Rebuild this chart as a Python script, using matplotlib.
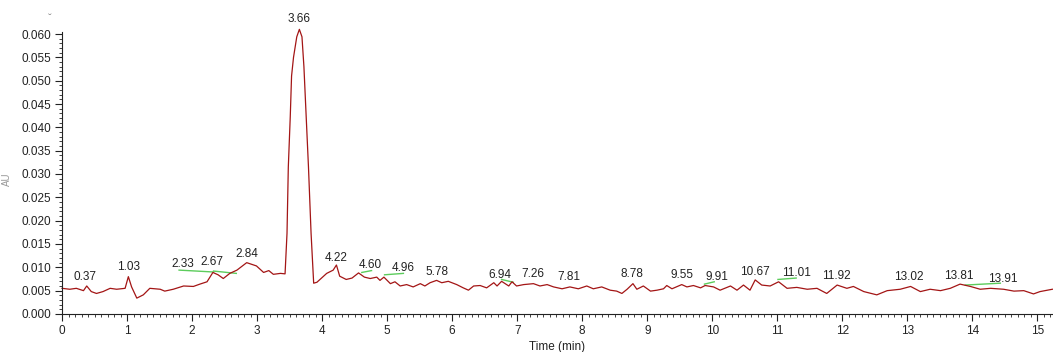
import numpy as np
import matplotlib.pyplot as plt
from matplotlib.ticker import MultipleLocator

plt.rcParams['font.family'] = ['Liberation Sans', 'DejaVu Sans']

# chromatogram trace (time in min, absorbance in AU)
time = [0.00, 0.12, 0.22, 0.33, 0.38, 0.45, 0.53, 0.63, 0.74, 0.84, 0.97,
        1.02, 1.07, 1.15, 1.25, 1.35, 1.51, 1.58, 1.71, 1.87, 2.02, 2.12,
        2.23, 2.32, 2.40, 2.48, 2.58, 2.69, 2.84, 2.99, 3.10, 3.18, 3.25,
        3.36, 3.43, 3.46, 3.48, 3.51, 3.53, 3.56, 3.61, 3.65, 3.69, 3.72,
        3.75, 3.79, 3.83, 3.87, 3.92,
        4.07, 4.17, 4.22, 4.27, 4.37, 4.46, 4.56, 4.65, 4.74, 4.84,
        4.89, 4.95, 5.05, 5.12, 5.20, 5.30, 5.40, 5.51, 5.58, 5.66, 5.76,
        5.84, 5.94, 6.07, 6.17, 6.25, 6.33, 6.43, 6.53, 6.64, 6.69, 6.76,
        6.87, 6.92, 6.99, 7.10, 7.25, 7.35, 7.46, 7.56, 7.69, 7.81, 7.94,
        8.07, 8.17, 8.30, 8.43, 8.53, 8.61, 8.69, 8.78, 8.84, 8.94, 9.05,
        9.15, 9.25, 9.30, 9.38, 9.53, 9.61, 9.71, 9.82, 9.89, 10.02, 10.12,
        10.28, 10.38, 10.48, 10.58, 10.66, 10.76, 10.89, 11.02, 11.15, 11.30,
        11.46, 11.61, 11.76, 11.92, 12.07, 12.17, 12.33, 12.53, 12.69, 12.89,
        13.05, 13.20, 13.35, 13.51, 13.66, 13.81, 13.97, 14.12, 14.28, 14.48,
        14.64, 14.79, 14.94, 15.04, 15.23]
signal = [0.0055, 0.0053, 0.0055, 0.0050, 0.0060, 0.0048, 0.0044, 0.0048, 0.0055, 0.0053, 0.0055,
          0.0080, 0.0058, 0.0034, 0.0041, 0.0055, 0.0053, 0.0049, 0.0053, 0.0060, 0.0059, 0.0064,
          0.0069, 0.0089, 0.0084, 0.0076, 0.0087, 0.0094, 0.0110, 0.0103, 0.0089, 0.0093, 0.0085,
          0.0087, 0.0086, 0.0173, 0.0315, 0.0423, 0.0510, 0.0550, 0.0594, 0.0610, 0.0594, 0.0530,
          0.0437, 0.0315, 0.0173, 0.0066, 0.0068,
          0.0087, 0.0094, 0.0105, 0.0081, 0.0074, 0.0077, 0.0088, 0.0079, 0.0076, 0.0079,
          0.0072, 0.0079, 0.0065, 0.0069, 0.0060, 0.0063, 0.0058, 0.0065, 0.0060, 0.0067, 0.0072,
          0.0067, 0.0070, 0.0063, 0.0056, 0.0051, 0.0060, 0.0061, 0.0056, 0.0067, 0.0060, 0.0070,
          0.0060, 0.0069, 0.0060, 0.0063, 0.0065, 0.0060, 0.0063, 0.0058, 0.0054, 0.0058, 0.0054,
          0.0060, 0.0054, 0.0058, 0.0051, 0.0049, 0.0044, 0.0053, 0.0065, 0.0053, 0.0060, 0.0049,
          0.0051, 0.0054, 0.0061, 0.0054, 0.0063, 0.0058, 0.0061, 0.0056, 0.0061, 0.0058, 0.0051,
          0.0060, 0.0051, 0.0062, 0.0051, 0.0073, 0.0062, 0.0060, 0.0069, 0.0055, 0.0057,
          0.0053, 0.0055, 0.0044, 0.0062, 0.0055, 0.0059, 0.0048, 0.0041, 0.0050, 0.0053,
          0.0059, 0.0048, 0.0053, 0.0050, 0.0055, 0.0064, 0.0059, 0.0053, 0.0055, 0.0053,
          0.0049, 0.0050, 0.0043, 0.0048, 0.0053]

# peak labels: text, label x, label y
peak_labels = ['0.37', '1.03', '2.33', '2.67', '2.84', '3.66', '4.22', '4.60', '4.96',
               '5.78', '6.94', '7.26', '7.81', '8.78', '9.55', '9.91', '10.67', '11.01',
               '11.92', '13.02', '13.81', '13.91']
label_x = [0.35, 1.02, 1.85, 2.31, 2.84, 3.65, 4.21, 4.74, 5.25,
           5.76, 6.74, 7.24, 7.80, 8.76, 9.53, 10.07, 10.66, 11.29,
           11.91, 13.02, 13.79, 14.46]
label_y = [0.0079, 0.0100, 0.0107, 0.0111, 0.0129, 0.0632, 0.0121, 0.0105, 0.0098,
           0.0091, 0.0084, 0.0085, 0.0080, 0.0085, 0.0084, 0.0079, 0.0091, 0.0087,
           0.0081, 0.0079, 0.0081, 0.0076]

# integration baselines (t0, v0, t1, v1)
baselines = [(1.80, 0.0094, 2.33, 0.0090),
             (2.33, 0.0092, 2.68, 0.0087),
             (4.61, 0.0089, 4.76, 0.0093),
             (4.96, 0.0084, 5.25, 0.0087),
             (6.76, 0.0074, 6.94, 0.0068),
             (9.88, 0.0064, 10.03, 0.0069),
             (11.01, 0.0074, 11.29, 0.0077),
             (13.89, 0.0062, 14.43, 0.0066)]

fig = plt.figure(figsize=(10.53, 3.52), dpi=100)
ax = fig.add_axes([0.0589, 0.108, 0.9405, 0.802])

for t0, v0, t1, v1 in baselines:
    ax.plot([t0, t1], [v0, v1], color='#5ccc5c', lw=1)
ax.plot(time, signal, color='#a31515', lw=0.9, clip_on=False)

for txt, lx, ly in zip(peak_labels, label_x, label_y):
    ax.text(lx, ly, txt, ha='center', va='center', fontsize=8.5, color='#222222', clip_on=False)

ax.set_xlim(0, 15.23)
ax.set_ylim(0, 0.0605)
ax.xaxis.set_major_locator(MultipleLocator(1))
ax.xaxis.set_minor_locator(MultipleLocator(0.1))
ax.yaxis.set_major_locator(MultipleLocator(0.005))
ax.yaxis.set_minor_locator(MultipleLocator(0.001))
ax.yaxis.set_major_formatter(plt.FormatStrFormatter('%.3f'))
ax.tick_params(which='major', length=5, width=0.8, labelsize=8.5, colors='#222222', pad=3)
ax.tick_params(which='minor', length=2.5, width=0.6, colors='#222222')
for s in ['top', 'right']:
    ax.spines[s].set_visible(False)
for s in ['left', 'bottom']:
    ax.spines[s].set_color('#222222')
    ax.spines[s].set_linewidth(0.8)

ax.set_xlabel('Time (min)', fontsize=8.5, color='#222222', labelpad=3)
fig.text(0.007, 0.49, 'AU', rotation=90, ha='center', va='center', fontsize=7, color='#999999')
fig.text(0.0475, 0.945, 'ˇ', ha='center', va='center', fontsize=8, color='#888888')

fig.savefig('out.png', dpi=100)
